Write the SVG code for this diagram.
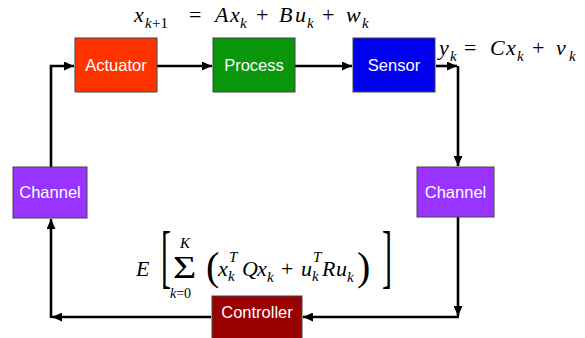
<svg xmlns="http://www.w3.org/2000/svg" width="585" height="338" viewBox="0 0 585 338">
<defs>
<marker id="ah" markerUnits="userSpaceOnUse" markerWidth="11" markerHeight="9" refX="10" refY="4.5" orient="auto">
<path d="M0,0 L10,4.5 L0,9 z" fill="#000"/>
</marker>
<style>
.box{stroke:#444;stroke-width:1}
.lbl{font-family:"Liberation Sans",Arial,sans-serif;font-size:16.5px;fill:#fff;text-anchor:middle}
.conn{fill:none;stroke:#000;stroke-width:2.6;marker-end:url(#ah)}
.m{font-family:"Liberation Serif","DejaVu Serif",serif;font-style:italic;font-size:22px;fill:#000}
.s{font-size:15px}
.u{font-style:normal}
</style>
</defs>
<rect width="585" height="338" fill="#fff"/>

<g id="connectors">
<path class="conn" d="M157,66 H212"/>
<path class="conn" d="M295,66 H352"/>
<path class="conn" d="M436,66 H457"/>
<path class="conn" d="M458,66 V166"/>
<path class="conn" d="M458,216 V316"/>
<path class="conn" d="M459,317 H303"/>
<path class="conn" d="M211,317 H52"/>
<path class="conn" d="M51,318 V219"/>
<path class="conn" d="M51,167 V66 H74"/>
</g>

<g id="actuator">
<rect class="box" x="75" y="38" width="82" height="54" fill="#FF3300"/>
<text class="lbl" x="116" y="71">Actuator</text>
</g>
<g id="process">
<rect class="box" x="213" y="38" width="82" height="54" fill="#0A960A"/>
<text class="lbl" x="254" y="71">Process</text>
</g>
<g id="sensor">
<rect class="box" x="353" y="38" width="82" height="54" fill="#0000F0"/>
<text class="lbl" x="394" y="71">Sensor</text>
</g>
<g id="channel-left">
<rect class="box" x="13" y="167" width="74" height="51" fill="#9933FF"/>
<text class="lbl" x="50" y="198">Channel</text>
</g>
<g id="channel-right">
<rect class="box" x="417" y="167" width="77" height="50" fill="#9933FF"/>
<text class="lbl" x="455.500" y="198">Channel</text>
</g>
<g id="controller">
<rect class="box" x="212" y="296" width="90" height="44" fill="#990000"/>
<text class="lbl" x="257" y="318">Controller</text>
</g>

<g id="eq-state">
<text class="m" y="22"><tspan x="134">x</tspan><tspan class="s" x="145" y="28">k</tspan><tspan class="s u" x="152" y="28">+1</tspan><tspan class="u" x="189" y="22">=</tspan><tspan x="215">A</tspan><tspan x="230">x</tspan><tspan class="s" x="240" y="28">k</tspan><tspan class="u" x="256" y="22">+</tspan><tspan x="279">B</tspan><tspan x="295">u</tspan><tspan class="s" x="307" y="28">k</tspan><tspan class="u" x="322" y="22">+</tspan><tspan x="346">w</tspan><tspan class="s" x="362" y="28">k</tspan></text>
</g>
<g id="eq-output">
<text class="m" y="55"><tspan x="439">y</tspan><tspan class="s" x="450" y="61">k</tspan><tspan class="u" x="464" y="55">=</tspan><tspan x="490">C</tspan><tspan x="506">x</tspan><tspan class="s" x="517" y="61">k</tspan><tspan class="u" x="532" y="55">+</tspan><tspan x="556">v</tspan><tspan class="s" x="569" y="61">k</tspan></text>
</g>
<g id="eq-cost">
<text class="m" x="136" y="276">E</text>
<text class="m u" style="font-size:30px" x="0" y="0" transform="translate(161,280) scale(1,2.35)">[</text>
<text class="m u" style="font-size:30px" x="0" y="0" transform="translate(382,280) scale(1,2.35)">]</text>
<text class="m u" style="font-size:32px" x="0" y="0" transform="translate(173,278) scale(1.25,1)">Σ</text>
<text class="m s" x="180" y="248">K</text>
<text class="m" style="font-size:14px" x="170" y="298">k<tspan class="u">=0</tspan></text>
<text class="m u" style="font-size:40px" x="206" y="280">(</text>
<text class="m" y="276"><tspan x="218">x</tspan><tspan class="s" x="228" y="281">k</tspan><tspan class="s" x="229" y="262">T</tspan><tspan x="242" y="276">Q</tspan><tspan x="257">x</tspan><tspan class="s" x="267" y="282">k</tspan><tspan class="u" x="281" y="276">+</tspan><tspan x="301">u</tspan><tspan class="s" x="312" y="281">k</tspan><tspan class="s" x="313" y="262">T</tspan><tspan x="322" y="276">R</tspan><tspan x="336">u</tspan><tspan class="s" x="347" y="282">k</tspan></text>
<text class="m u" style="font-size:40px" x="357" y="280">)</text>
</g>
</svg>
